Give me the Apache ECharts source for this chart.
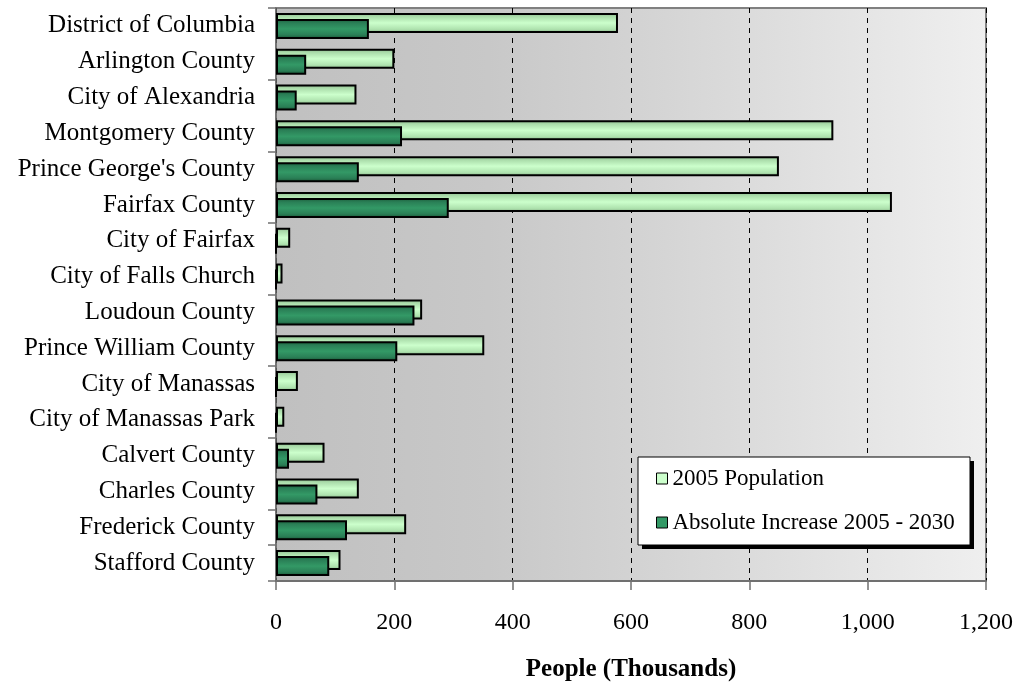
<!DOCTYPE html>
<html>
<head>
<meta charset="utf-8">
<script src="https://cdn.jsdelivr.net/npm/echarts@6/dist/echarts.min.js"></script>
<style>
html,body{margin:0;padding:0;background:#fff;}
#chart{width:1019px;height:686px;}
</style>
</head>
<body>
<div id="chart"></div>
<script>
var categories = ["District of Columbia","Arlington County","City of Alexandria","Montgomery County","Prince George's County","Fairfax County","City of Fairfax","City of Falls Church","Loudoun County","Prince William County","City of Manassas","City of Manassas Park","Calvert County","Charles County","Frederick County","Stafford County"];
var pop2005 = [578, 200, 136, 942, 850, 1041, 24, 11, 247, 352, 37, 14, 82, 140, 220, 109];
var increase = [157, 51, 35, 213, 140, 292, 0, 0, 234, 205, 0, 0, 22, 70, 120, 90];
var seriesNames = ["2005 Population", "Absolute Increase 2005 - 2030"];
var xTicks = {min: 0, max: 1200, interval: 200};

var FONT = '"Liberation Serif", "Times New Roman", serif';
var chart = echarts.init(document.getElementById('chart'), null, {renderer: 'canvas'});

var lightGrad = new echarts.graphic.LinearGradient(0, 0, 0, 1, [
  {offset: 0, color: '#8cb48c'},
  {offset: 0.18, color: '#a9dba9'},
  {offset: 0.5, color: '#ccffcc'},
  {offset: 0.82, color: '#aee2ae'},
  {offset: 1, color: '#84ae84'}
]);
var darkGrad = new echarts.graphic.LinearGradient(0, 0, 0, 1, [
  {offset: 0, color: '#1b5a3a'},
  {offset: 0.2, color: '#2a7f56'},
  {offset: 0.5, color: '#339966'},
  {offset: 0.8, color: '#2a7f56'},
  {offset: 1, color: '#185233'}
]);
var bgGrad = new echarts.graphic.LinearGradient(0, 0, 1, 0, [
  {offset: 0, color: '#c0c0c0'},
  {offset: 0.3, color: '#c8c8c8'},
  {offset: 0.55, color: '#d5d5d5'},
  {offset: 1, color: '#efefef'}
]);

var option = {
  animation: false,
  backgroundColor: '#ffffff',
  textStyle: {fontFamily: FONT, color: '#000'},
  grid: {
    left: 276, right: 33, top: 8, bottom: 105,
    outerBoundsMode: 'none',
    containLabel: false,
    show: true,
    backgroundColor: bgGrad,
    borderColor: '#808080',
    borderWidth: 2
  },
  graphic: [
    {type: 'rect', z: 5, shape: {x: 642, y: 461, width: 332, height: 88}, style: {fill: '#000'}},
    {type: 'rect', z: 5, shape: {x: 638, y: 457, width: 332, height: 88}, style: {fill: '#fff', stroke: '#000', lineWidth: 1}}
  ],
  legend: {
    z: 10,
    left: 638, top: 457,
    orient: 'vertical',
    padding: [10, 12, 12, 18],
    itemGap: 21,
    itemWidth: 11,
    itemHeight: 11,
    itemTextGap: 13,
    icon: 'rect',
    textStyle: {fontFamily: FONT, fontSize: 23, color: '#000'},
    data: [
      {name: seriesNames[0], itemStyle: {color: '#ccffcc', borderColor: '#000', borderWidth: 1}},
      {name: seriesNames[1], itemStyle: {color: '#339966', borderColor: '#000', borderWidth: 1}}
    ]
  },
  xAxis: {
    type: 'value',
    min: xTicks.min, max: xTicks.max, interval: xTicks.interval,
    name: 'People (Thousands)',
    nameLocation: 'middle',
    nameGap: 76,
    nameTextStyle: {fontFamily: FONT, fontSize: 25, fontWeight: 'bold', color: '#000'},
    axisLine: {show: true, lineStyle: {color: '#707070', width: 2}},
    axisTick: {show: true, inside: false, length: 9, lineStyle: {color: '#707070', width: 1.5}},
    axisLabel: {fontFamily: FONT, fontSize: 24, color: '#000', margin: 30,
      formatter: function (v) { return v.toLocaleString('en-US'); }},
    splitLine: {show: true, lineStyle: {color: '#000', type: [5, 5], width: 1}}
  },
  yAxis: {
    type: 'category',
    data: categories,
    inverse: true,
    axisLine: {show: true, lineStyle: {color: '#707070', width: 1.5}},
    axisTick: {show: true, interval: 1, length: 8, lineStyle: {color: '#707070', width: 1.5}},
    axisLabel: {fontFamily: FONT, fontSize: 25, color: '#000', margin: 21, interval: 0}
  },
  series: [
    {
      name: seriesNames[0],
      type: 'bar',
      data: pop2005,
      barWidth: 20,
      barGap: '-70%',
      itemStyle: {color: lightGrad, borderColor: '#000', borderWidth: 2}
    },
    {
      name: seriesNames[1],
      type: 'bar',
      data: increase,
      barWidth: 20,
      itemStyle: {color: darkGrad, borderColor: '#000', borderWidth: 2}
    }
  ]
};
chart.setOption(option);
</script>
</body>
</html>
